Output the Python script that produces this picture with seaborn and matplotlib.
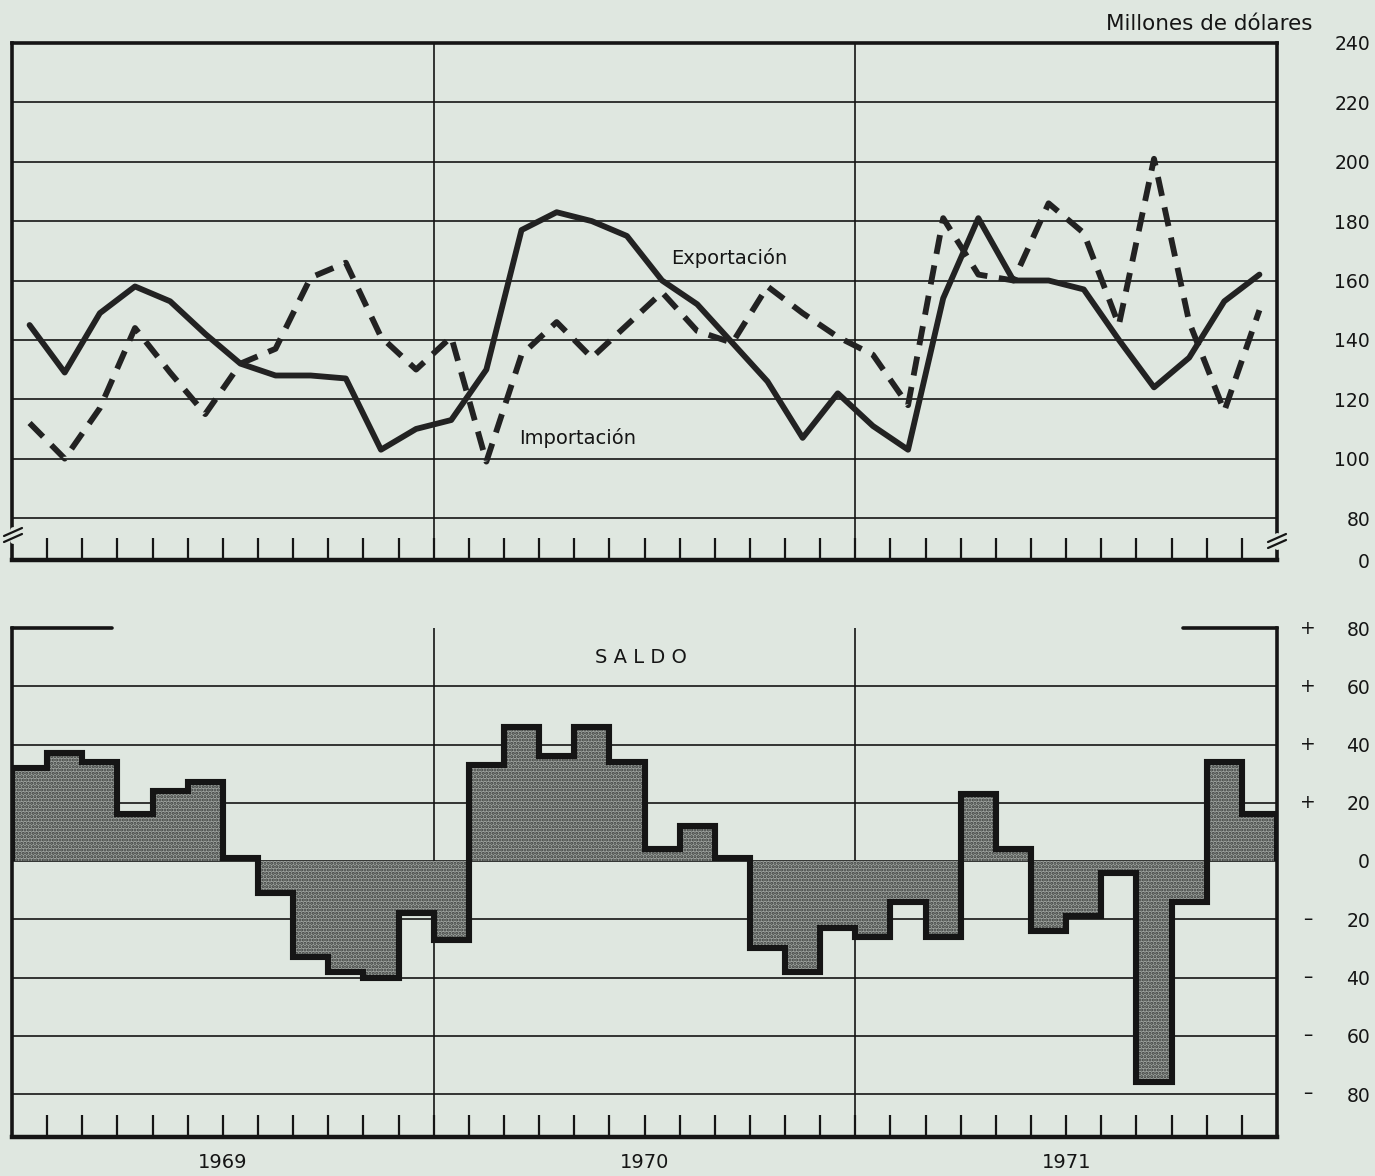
import numpy as np
import pandas as pd
import seaborn as sns
import matplotlib
matplotlib.use('Agg')
import matplotlib.pyplot as plt
from matplotlib.lines import Line2D
from matplotlib import transforms

# datos mensuales 1969-1971 (millones de dólares)
meses = np.arange(36)
exportacion = [145, 129, 149, 158, 153, 142, 132, 128, 128, 127, 103, 110,
               113, 130, 177, 183, 180, 175, 160, 152, 139, 126, 107, 122,
               111, 103, 154, 181, 160, 160, 157, 140, 124, 134, 153, 162]
importacion = [112, 100, 117, 144, 129, 115, 132, 137, 161, 166, 141, 130,
               141, 99, 135, 146, 134, 145, 156, 143, 139, 158, 149, 141,
               135, 118, 181, 162, 160, 186, 176, 145, 201, 146, 116, 150]
saldo = [32, 37, 34, 16, 24, 27, 1, -11, -33, -38, -40, -18,
         -27, 33, 46, 36, 46, 34, 4, 12, 1, -30, -38, -23,
         -26, -14, -26, 23, 4, -24, -19, -4, -76, -14, 34, 16]
anios = ['1969', '1970', '1971']
ticks_sup = [80, 100, 120, 140, 160, 180, 200, 220, 240]
ticks_inf = [-80, -60, -40, -20, 0, 20, 40, 60, 80]

df = pd.DataFrame({'mes': meses, 'Exportación': exportacion, 'Importación': importacion})

bg = '#dfe7e0'
ink = '#151515'
W, H = 1375, 1176

sns.set_theme(style='white')
plt.rcParams['font.family'] = ['DejaVu Sans']
plt.rcParams['hatch.linewidth'] = 1.5
plt.rcParams['text.color'] = ink


def fx(x):
    return x / W


def fy(y):
    return 1 - y / H


fig = plt.figure(figsize=(13.75, 11.76), dpi=100, facecolor=bg)
ax1 = fig.add_axes([fx(12), fy(560), fx(1277) - fx(12), fy(43) - fy(560)])
ax2 = fig.add_axes([fx(12), fy(1137), fx(1277) - fx(12), fy(628) - fy(1137)])

limites = np.arange(37) - 0.5
frontera = np.arange(1, 36) - 0.5

# ---------- panel superior ----------
ylo = 80 - 42 / 2.969
ax1.set_facecolor(bg)
ax1.set_xlim(-0.5, 35.5)
ax1.set_ylim(ylo, 240)
for v in ticks_sup[:-1]:
    ax1.axhline(v, color=ink, lw=1.2, zorder=1)
for v in (11.5, 23.5):
    ax1.axvline(v, color=ink, lw=1.2, zorder=1)

sns.lineplot(data=df, x='mes', y='Exportación', ax=ax1, color='#222222', lw=4.2, zorder=3)
sns.lineplot(data=df, x='mes', y='Importación', ax=ax1, color='#222222', lw=4.2,
             linestyle=(0, (3.3, 2.0)), zorder=3)
ax1.text(19.9, 167.5, 'Exportación', fontsize=14, ha='center', va='center')
ax1.text(15.6, 107, 'Importación', fontsize=14, ha='center', va='center')

ax1.set_xlabel('')
ax1.set_ylabel('')
ax1.set_xticks(frontera)
ax1.set_xticklabels([])
ax1.tick_params(axis='x', direction='in', length=16, width=1.6, color=ink, bottom=True)
ax1.yaxis.tick_right()
ax1.set_yticks([ylo] + ticks_sup)
ax1.set_yticklabels(['0'] + [str(v) for v in ticks_sup])
ax1.tick_params(axis='y', length=0, pad=67, labelsize=13.5, labelcolor=ink)
plt.setp(ax1.get_yticklabels(), ha='right')
for s in ax1.spines.values():
    s.set_color(ink)
    s.set_linewidth(2.6)
ax1.spines['bottom'].set_linewidth(3.2)

# ---------- panel inferior (saldo) ----------
ax2.set_facecolor(bg)
ax2.set_xlim(-0.5, 35.5)
ax2.set_ylim(-80 - 43 / 2.9125, 80)
for v in ticks_inf[:-1]:
    ax2.axhline(v, color=ink, lw=1.2, zorder=1)
for v in (11.5, 23.5):
    ax2.axvline(v, color=ink, lw=1.2, zorder=1)

ax2.stairs(saldo, limites, baseline=0, fill=True, facecolor='#9ea39f',
           edgecolor='#383b39', hatch='.....', lw=0, zorder=2)
ax2.stairs(saldo, limites, baseline=0, color=ink, lw=4.4, zorder=3)
ax2.text(17.4, 70, 'S A L D O', fontsize=14, ha='center', va='center')

ax2.set_xticks(frontera)
ax2.set_xticklabels([])
ax2.tick_params(axis='x', direction='in', length=16, width=1.6, color=ink, bottom=True)
tr = transforms.blended_transform_factory(ax2.transData, ax2.transAxes)
for i, a in enumerate(anios):
    ax2.text(5.5 + 12 * i, -0.05, a, fontsize=14, ha='center', va='center', transform=tr)

ax2.yaxis.tick_right()
ax2.set_yticks(ticks_inf)
ax2.set_yticklabels([str(abs(v)) for v in ticks_inf])
ax2.tick_params(axis='y', length=0, pad=67, labelsize=13.5, labelcolor=ink)
plt.setp(ax2.get_yticklabels(), ha='right')
tr2 = transforms.blended_transform_factory(fig.transFigure, ax2.transData)
for v in ticks_inf:
    if v != 0:
        ax2.text(fx(1308), v, '+' if v > 0 else '–', fontsize=13.5, ha='center', va='center',
                 transform=tr2, clip_on=False)
for k, s in ax2.spines.items():
    s.set_color(ink)
    s.set_linewidth(2.6)
ax2.spines['bottom'].set_linewidth(3.2)
ax2.spines['top'].set_visible(False)
for x0, x1 in ((12, 112), (1183, 1277)):
    fig.add_artist(Line2D([fx(x0), fx(x1)], [fy(628), fy(628)], color=ink, lw=2.6))

# cortes del eje en el panel superior
for xc, yc in ((13, 535), (1277, 541)):
    fig.add_artist(Line2D([fx(xc), fx(xc)], [fy(yc - 5), fy(yc + 5)], color=bg, lw=5, zorder=10))
    for d in (-3, 3):
        fig.add_artist(Line2D([fx(xc - 9), fx(xc + 9)], [fy(yc + 4 + d), fy(yc - 4 + d)],
                              color=ink, lw=1.6, zorder=11))

fig.text(fx(1312), fy(24), 'Millones de dólares', fontsize=15.5, ha='right', va='center')

fig.savefig('out.png', dpi=100, facecolor=bg)
